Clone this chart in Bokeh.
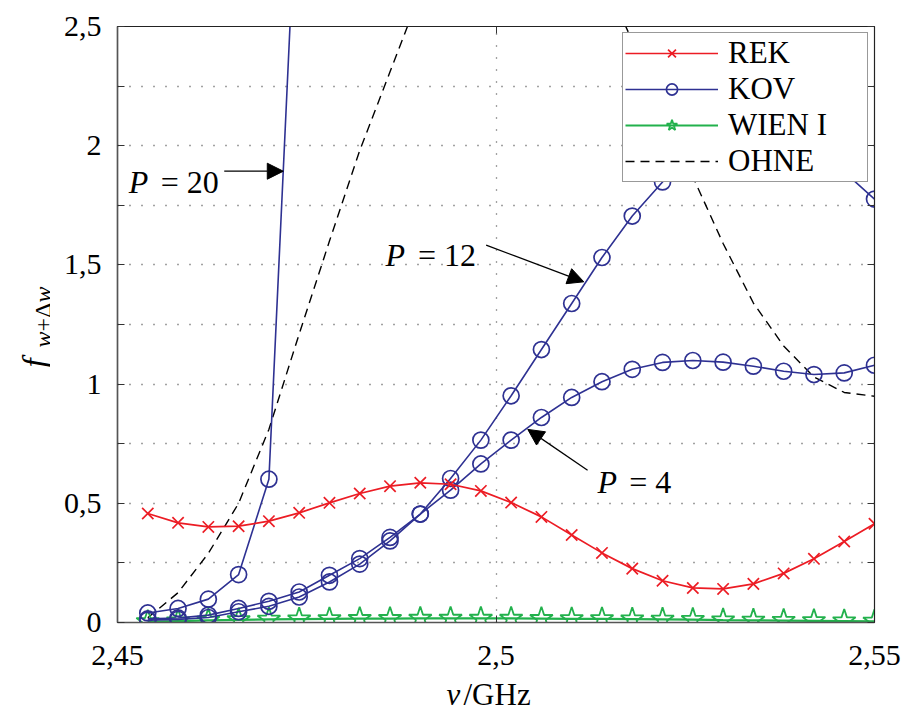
import math

from bokeh.embed import file_html
from bokeh.layouts import column, row
from bokeh.models import (Arrow, FixedTicker, Label, Legend, LegendItem,
                          LinearAxis, NormalHead, Range1d)
from bokeh.plotting import figure
from bokeh.resources import INLINE

# ---------------------------------------------------------------- data
freq_ghz = [2.454, 2.458, 2.462, 2.466, 2.470, 2.474, 2.478, 2.482, 2.486,
            2.490, 2.494, 2.498, 2.502, 2.506, 2.510, 2.514, 2.518, 2.522,
            2.526, 2.530, 2.534, 2.538, 2.542, 2.546, 2.550]

rek = [0.457, 0.418, 0.401, 0.404, 0.425, 0.460, 0.502, 0.541, 0.572, 0.586,
       0.580, 0.552, 0.503, 0.443, 0.367, 0.292, 0.226, 0.175, 0.145, 0.141,
       0.162, 0.206, 0.267, 0.340, 0.414]

kov_p4 = [0.015, 0.019, 0.031, 0.059, 0.089, 0.128, 0.198, 0.268, 0.357, 0.455,
          0.555, 0.665, 0.765, 0.860, 0.944, 1.010, 1.062, 1.091, 1.099, 1.092,
          1.075, 1.054, 1.040, 1.047, 1.079]

kov_p12 = [0.010, 0.013, 0.021, 0.045, 0.068, 0.107, 0.170, 0.245, 0.342, 0.455,
           0.604, 0.765, 0.951, 1.145, 1.338, 1.531, 1.705, 1.848, 1.940, 1.990,
           2.010, 2.000, 1.960, 1.890, 1.776]

kov_p20 = [0.040, 0.059, 0.098, 0.201, 0.601, 3.330]

wien = [0.003, 0.006, 0.009, 0.011, 0.013, 0.014, 0.015, 0.016, 0.016, 0.017,
        0.017, 0.017, 0.017, 0.016, 0.015, 0.015, 0.014, 0.013, 0.012, 0.010,
        0.009, 0.008, 0.007, 0.006, 0.005]

ohne = [0.020, 0.125, 0.290, 0.500, 0.810, 1.210, 1.600, 1.980, 2.310, 2.640,
        2.930, 3.150, 3.280, 3.250, 3.050, 2.720, 2.440, 2.170, 1.870, 1.590,
        1.340, 1.160, 1.030, 0.965, 0.949]

series_names = ["REK", "KOV", "WIEN I", "OHNE"]
p_values = [20, 12, 4]

x_ticks = [2.45, 2.5, 2.55]
x_tick_labels = ["2,45", "2,5", "2,55"]
y_ticks = [0, 0.25, 0.5, 0.75, 1.0, 1.25, 1.5, 1.75, 2.0, 2.25, 2.5]
y_tick_labels = ["0", "", "0,5", "", "1", "", "1,5", "", "2", "", "2,5"]

# ---------------------------------------------------------------- style
RED = "#ec1c24"
BLUE = "#2e3192"
GREEN = "#22b14c"
SERIF = "Liberation Serif"

TITLE_W = 50        # strip left of the plot holding the y title
PLOT_H = 677        # plot height; the x title strip fills the rest
TOTAL_W, TOTAL_H = 903, 706

p = figure(width=TOTAL_W - TITLE_W, height=PLOT_H,
           x_range=Range1d(2.45, 2.55), y_range=Range1d(0, 2.5),
           output_backend="svg", toolbar_location=None,
           min_border_left=67, min_border_right=29,
           min_border_top=26, min_border_bottom=55,
           background_fill_color="white", border_fill_color="white")
p.frame_align = False
p.outline_line_color = "#333333"
p.outline_line_width = 1.2

xt = FixedTicker(ticks=x_ticks)
yt = FixedTicker(ticks=y_ticks)

for ax in p.xaxis:
    ax.ticker = xt
    ax.major_label_overrides = dict(zip(x_ticks, x_tick_labels))
for ax in p.yaxis:
    ax.ticker = yt
    ax.major_label_overrides = dict(zip(y_ticks, y_tick_labels))

for ax in list(p.xaxis) + list(p.yaxis):
    ax.axis_line_color = "#555555"
    ax.axis_line_width = 1.5
    ax.major_tick_in = 7
    ax.major_tick_out = 0
    ax.major_tick_line_color = "#333333"
    ax.minor_tick_line_color = None
    ax.major_label_text_font = SERIF
    ax.major_label_text_font_size = "30px"
    ax.major_label_text_color = "black"
p.xaxis.major_label_standoff = 23
p.yaxis.major_label_standoff = 16

# plain axes on the opposite sides, ticks only
right_ax = LinearAxis(ticker=yt, major_label_overrides={t: "" for t in y_ticks},
                      major_tick_in=7, major_tick_out=0, minor_tick_line_color=None,
                      axis_line_color="#222222", major_tick_line_color="#333333")
top_ax = LinearAxis(ticker=xt, major_label_overrides={t: "" for t in x_ticks},
                    major_tick_in=7, major_tick_out=0, minor_tick_line_color=None,
                    axis_line_color="#222222", major_tick_line_color="#333333")
p.add_layout(right_ax, "right")
p.add_layout(top_ax, "above")

p.xgrid.ticker = xt
p.ygrid.ticker = yt
for g in (p.xgrid, p.ygrid):
    g.grid_line_color = "#444444"
    g.grid_line_dash = "1 11"
    g.grid_line_width = 1.3

# ---------------------------------------------------------------- curves
ohne_line = p.line(freq_ghz, ohne, line_color="black", line_width=1.4,
                   line_dash="9 6")

wien_line = p.line(freq_ghz, wien, line_color=GREEN, line_width=2.2)
wien_pts = p.scatter(freq_ghz, wien, marker="star", size=24, line_color=GREEN,
                     line_width=1.8, fill_alpha=0)

kov_lines = []
kov_pts = []
for ys in (kov_p4, kov_p12, kov_p20):
    xs = freq_ghz[:len(ys)]
    kov_lines.append(p.line(xs, ys, line_color=BLUE, line_width=1.6))
    kov_pts.append(p.scatter(xs, ys, marker="circle", size=16, line_color=BLUE,
                             line_width=1.7, fill_alpha=0))

rek_line = p.line(freq_ghz, rek, line_color=RED, line_width=1.7)
rek_pts = p.scatter(freq_ghz, rek, marker="x", size=16, line_color=RED,
                    line_width=1.7)

legend = Legend(items=[
    LegendItem(label=series_names[0], renderers=[rek_line, rek_pts]),
    LegendItem(label=series_names[1], renderers=[kov_lines[0], kov_pts[0]]),
    LegendItem(label=series_names[2], renderers=[wien_line, wien_pts]),
    LegendItem(label=series_names[3], renderers=[ohne_line]),
], location="top_right", margin=6, padding=2, spacing=-6,
    label_height=28, glyph_height=28, glyph_width=93, label_standoff=10,
    label_width=137, border_line_color="#333333", border_line_width=1.8,
    label_text_font=SERIF, label_text_font_size="31px", label_text_color="black",
    background_fill_color="white", background_fill_alpha=1.0)
p.add_layout(legend)

# ---------------------------------------------------------------- annotations
# (P label left edge, "=" left edge, baseline, arrow tail x/y, arrow tip x/y)
ann_layout = [
    (2.4515, 2.4557, 1.848, 2.4641, 1.893, 2.4719, 1.893),
    (2.4854, 2.4897, 1.541, 2.4987, 1.583, 2.5116, 1.429),
    (2.5134, 2.5176, 0.590, 2.5121, 0.639, 2.5042, 0.810),
]
for pv, (xp, xe, yb, xs0, ys0, xs1, ys1) in zip(p_values, ann_layout):
    p.add_layout(Label(x=xp, y=yb, text="P", text_font=SERIF,
                       text_font_style="italic", text_font_size="32px",
                       text_color="black",
                       text_baseline="alphabetic", text_align="left"))
    p.add_layout(Label(x=xe, y=yb, text=f"= {pv}", text_font=SERIF,
                       text_font_size="32px", text_color="black",
                       text_baseline="alphabetic", text_align="left"))
    p.add_layout(Arrow(x_start=xs0, y_start=ys0, x_end=xs1, y_end=ys1,
                       line_color="black", line_width=1.3,
                       end=NormalHead(size=16, fill_color="black",
                                      line_color="black", line_width=1)))


# ---------------------------------------------------------------- axis titles
# Two bare strips; their ranges run in page pixels (x from the left edge,
# y from the bottom edge) so the titles can mix italic and upright pieces.
# frame_align=False keeps each strip's frame equal to its own canvas.
def title_strip(x0, x1, y0, y1):
    f = figure(width=x1 - x0, height=y1 - y0,
               x_range=Range1d(x0, x1), y_range=Range1d(y0, y1),
               x_axis_location=None, y_axis_location=None,
               min_border=0, toolbar_location=None, output_backend="svg",
               outline_line_color=None, background_fill_color="white",
               border_fill_color="white")
    f.frame_align = False
    try:
        f.title = None
    except Exception:
        f.title.visible = False
    f.grid.visible = False
    return f


def piece(f, x, y_from_top, text, size, italic=False, angle=0.0):
    f.add_layout(Label(x=x, y=TOTAL_H - y_from_top, text=text, angle=angle,
                       text_font=SERIF,
                       text_font_style="italic" if italic else "normal",
                       text_font_size=size, text_color="black",
                       text_baseline="alphabetic", text_align="left"))


ytitle = title_strip(0, TITLE_W, 0, TOTAL_H)
rot = math.pi / 2
piece(ytitle, 34, 367, "f", "33px", italic=True, angle=rot)
piece(ytitle, 42, 347, "w", "24px", italic=True, angle=rot)
piece(ytitle, 42, 331, "+Δ", "24px", angle=rot)
piece(ytitle, 42, 302, "w", "24px", italic=True, angle=rot)

xtitle = title_strip(TITLE_W, TOTAL_W, 0, TOTAL_H - PLOT_H)
piece(xtitle, 446, 694, "ν", "31px", italic=True)
piece(xtitle, 463, 694, "/GHz", "31px")

page = row(ytitle, column(p, xtitle, spacing=0), spacing=0)

open("out.html", "w").write(file_html(page, INLINE))
